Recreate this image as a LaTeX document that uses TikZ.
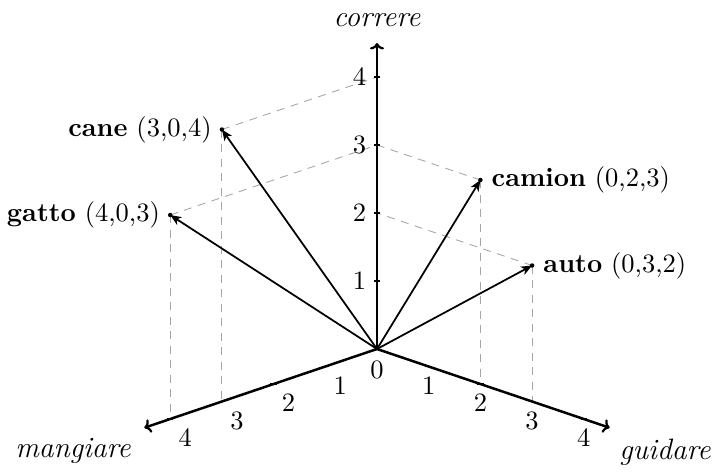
\documentclass[tikz,border=0pt]{standalone}
\usetikzlibrary{arrows.meta,calc}
\tikzset{
  every node/.style={font=\fontsize{10.6}{13}\selectfont},
  axisline/.style={line width=1pt,-{To[length=2.6pt,width=5.6pt,line width=0.9pt]}},
  vecline/.style={line width=0.7pt,-{Stealth[length=4.4pt,width=3.6pt,inset=1.2pt]}},
  proj/.style={gray!70,line width=0.35pt,dash pattern=on 3.2pt off 2.6pt},
  dotmark/.style={circle,fill=black,inner sep=0pt,minimum size=1.8pt},
  ticklbl/.style={inner sep=0pt},
  axlbl/.style={inner sep=0pt,font=\fontsize{11.8}{14}\selectfont\itshape},
}
\begin{document}
\begin{tikzpicture}[x={(-20.68pt,-7pt)},y={(20.68pt,-7pt)},z={(0pt,27.2pt)}]
\useasboundingbox (-150.8pt,-48.8pt) rectangle (135.2pt,139.6pt);
\coordinate (O) at (0,0,0);
\coordinate (xend) at (4.5,0,0);
\coordinate (yend) at (0,4.5,0);
\coordinate (zend) at (0,0,4.5);
% projection helpers
\coordinate (x3) at (3,0,0);
\coordinate (x4) at (4,0,0);
\coordinate (y2) at (0,2,0);
\coordinate (y3) at (0,3,0);
\coordinate (z2) at (0,0,2);
\coordinate (z3) at (0,0,3);
\coordinate (z4) at (0,0,4);
% points
\coordinate (cane) at (3,0,4);
\coordinate (gatto) at (4,0,3);
\coordinate (camion) at (0,2,3);
\coordinate (auto) at (0,3,2);
% dashed projections
\draw[proj] (cane) -- (z4);
\draw[proj] (cane) -- (x3);
\draw[proj] (gatto) -- (z3);
\draw[proj] (gatto) -- (x4);
\draw[proj] (camion) -- (z3);
\draw[proj] (camion) -- (y2);
\draw[proj] (auto) -- (z2);
\draw[proj] (auto) -- (y3);
% axes
\draw[axisline] (O) -- (xend);
\draw[axisline] (O) -- (yend);
\draw[axisline] (O) -- (zend);
% ticks
\foreach \i in {1,2,3,4}{
  \draw[line width=0.5pt] ($(\i,0,0)+(-1.3pt,0pt)$) -- ++(2.6pt,0pt);
  \draw[line width=0.5pt] ($(0,\i,0)+(-1.3pt,0pt)$) -- ++(2.6pt,0pt);
  \draw[line width=0.5pt] ($(0,0,\i)+(-1.3pt,0pt)$) -- ++(2.6pt,0pt);
  \node[ticklbl] (xl\i) at ($(\i,0,0)+(6pt,-7.6pt)$) {\i};
  \node[ticklbl] (yl\i) at ($(0,\i,0)+(0pt,-7.6pt)$) {\i};
  \node[ticklbl] (zl\i) at ($(0,0,\i)+(-7pt,0pt)$) {\i};
}
\node[ticklbl] (zero) at ($(O)+(0pt,-8.2pt)$) {0};
% axis labels
\node[axlbl] (lz) at (0pt,131.6pt) {correre};
\node[axlbl] (lx) at (-121.6pt,-40.8pt) {mangiare};
\node[axlbl] (ly) at (115.2pt,-41.2pt) {guidare};
% vectors
\draw[vecline] (O) -- (cane);
\draw[vecline] (O) -- (gatto);
\draw[vecline] (O) -- (camion);
\draw[vecline] (O) -- (auto);
\node[dotmark] (dcane) at (cane) {};
\node[dotmark] (dgatto) at (gatto) {};
\node[dotmark] (dcamion) at (camion) {};
\node[dotmark] (dauto) at (auto) {};
% labels
\node[left=0.6pt] (tcane) at (cane) {\textbf{cane} (3,0,4)};
\node[left=0.6pt] (tgatto) at (gatto) {\textbf{gatto} (4,0,3)};
\node[right=1pt] (tcamion) at (camion) {\textbf{camion} (0,2,3)};
\node[right=1pt] (tauto) at (auto) {\textbf{auto} (0,3,2)};
\end{tikzpicture}
\end{document}
